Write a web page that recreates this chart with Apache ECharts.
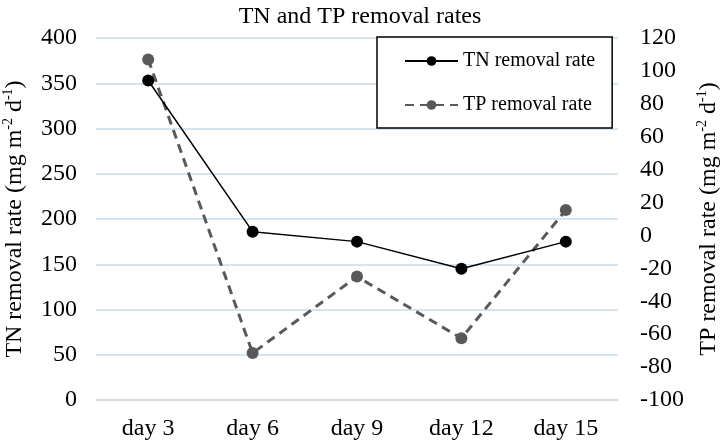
<!DOCTYPE html>
<html><head><meta charset="utf-8">
<script src="https://cdn.jsdelivr.net/npm/echarts@6/dist/echarts.min.js"></script>
<style>html,body{margin:0;padding:0;background:#fff}#c{width:720px;height:443px}</style>
</head><body><div id="c"></div>
<script>
const categories = ['day 3', 'day 6', 'day 9', 'day 12', 'day 15'];
const tnValues = [353, 186, 175, 145, 175];
const tpValues = [107, -71.5, -25, -62.5, 15.5];
const leftTicks = { min: 0, max: 400, interval: 50 };
const rightTicks = { min: -100, max: 120, interval: 20 };

const FF = '"Liberation Serif", "Times New Roman", serif';
const chart = echarts.init(document.getElementById('c'));
const rich = {
  a: { fontSize: 24, fontFamily: FF, color: '#000', lineHeight: 28 },
  s: { fontSize: 14, fontFamily: FF, color: '#000', verticalAlign: 'top', lineHeight: 28, padding: [0, 0, 10, 0] }
};
chart.setOption({
  backgroundColor: '#fff',
  title: {
    text: 'TN and TP removal rates', left: 'center', top: 0,
    textStyle: { fontFamily: FF, fontSize: 24, fontWeight: 'normal', color: '#000' }
  },
  legend: {
    orient: 'vertical', left: 377, top: 37,
    backgroundColor: '#fff', borderColor: '#000', borderWidth: 1.5,
    padding: [14, 17, 13, 27], itemGap: 24, itemWidth: 53, itemHeight: 12,
    textStyle: { fontFamily: FF, fontSize: 20, color: '#000' },
    data: ['TN removal rate', 'TP removal rate']
  },
  grid: { left: 96, right: 102, top: 38, bottom: 43, containLabel: false, outerBoundsMode: 'none' },
  xAxis: {
    type: 'category', data: categories, boundaryGap: true,
    axisLine: { lineStyle: { color: '#d9d9d9', width: 1.5 } },
    axisTick: { show: false },
    axisLabel: { fontFamily: FF, fontSize: 24, color: '#000', margin: 17 }
  },
  yAxis: [
    {
      type: 'value', min: leftTicks.min, max: leftTicks.max, interval: leftTicks.interval,
      position: 'left',
      axisLine: { show: false }, axisTick: { show: false },
      axisLabel: { fontFamily: FF, fontSize: 24, color: '#000', margin: 19 },
      splitLine: { lineStyle: { color: '#c3dcf0', width: 1.5 } },
      name: '{a|TN removal rate (mg m}{s|-2}{a| d}{s|-1}{a|)}',
      nameLocation: 'middle', nameGap: 67, nameRotate: 90,
      nameTextStyle: { rich: rich }
    },
    {
      type: 'value', min: rightTicks.min, max: rightTicks.max, interval: rightTicks.interval,
      position: 'right',
      axisLine: { show: false }, axisTick: { show: false },
      axisLabel: { fontFamily: FF, fontSize: 24, color: '#000', margin: 22 },
      splitLine: { show: false },
      name: '{a|TP removal rate (mg m}{s|-2}{a| d}{s|-1}{a|)}',
      nameLocation: 'middle', nameGap: 69, nameRotate: 90,
      nameTextStyle: { rich: rich }
    }
  ],
  series: [
    {
      name: 'TN removal rate', type: 'line', yAxisIndex: 0, data: tnValues,
      symbol: 'circle', symbolSize: 12,
      lineStyle: { color: '#000', width: 1.5 },
      itemStyle: { color: '#000' }, z: 3
    },
    {
      name: 'TP removal rate', type: 'line', yAxisIndex: 1, data: tpValues,
      symbol: 'circle', symbolSize: 12,
      lineStyle: { color: '#595959', width: 3, type: [9, 6] },
      itemStyle: { color: '#595959' }, z: 2
    }
  ],
  animation: false
});
</script></body></html>
